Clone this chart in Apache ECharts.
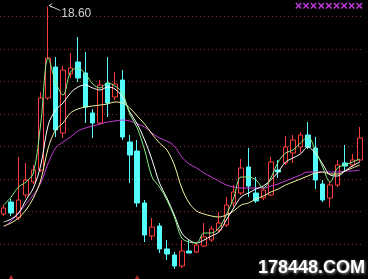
<!DOCTYPE html>
<html><head><meta charset="utf-8">
<script src="https://cdn.jsdelivr.net/npm/echarts@6/dist/echarts.min.js"></script>
<style>html,body{margin:0;padding:0;background:#000;}#c{width:368px;height:279px;}</style>
</head><body><div id="c"></div>
<script>
const categories = ['1','2','3','4','5','6','7','8','9','10','11','12','13','14','15','16','17','18','19','20','21','22','23','24','25','26','27','28','29','30','31','32','33','34','35','36','37','38','39','40','41','42','43','44','45','46','47','48','49'];
const openP  = [10.30,10.78,10.14,11.06,11.58,12.06,14.94,16.18,13.54,15.90,16.38,15.94,14.34,13.94,15.54,14.98,15.66,13.18,12.82,10.74,9.42,9.82,8.90,8.66,8.22,8.82,8.78,9.02,9.26,9.66,9.86,10.74,11.14,12.18,11.14,10.94,11.06,12.06,12.34,12.74,12.98,13.46,12.94,11.50,10.94,11.46,12.34,12.26,12.46];
const closeP = [10.54,10.34,10.86,11.66,12.06,14.94,16.54,13.66,16.06,16.14,15.74,14.58,13.94,15.46,14.74,15.50,13.38,12.66,10.74,9.46,9.78,8.90,8.70,8.22,8.82,8.74,9.06,9.38,9.70,9.94,10.66,11.18,12.14,11.42,10.82,11.26,12.38,11.98,12.98,13.26,13.46,12.98,11.66,10.86,11.46,12.26,12.22,12.46,13.34];
const lowP   = [10.22,10.22,10.06,10.94,11.50,11.98,14.86,13.38,13.34,15.74,15.58,13.94,13.34,13.86,14.18,14.86,13.26,11.54,10.58,9.18,9.26,8.74,8.46,8.10,8.14,8.74,8.74,8.98,9.18,9.54,9.78,10.58,11.06,10.98,10.74,10.86,11.02,11.74,12.26,12.34,12.74,12.90,11.30,10.78,10.58,11.38,11.98,12.18,12.38];
const highP  = [10.66,10.90,12.58,12.34,12.26,15.18,18.60,16.58,16.22,16.74,17.38,16.78,14.50,15.66,16.58,15.98,16.06,13.46,13.26,10.86,10.14,9.94,9.26,8.78,9.26,9.26,9.14,9.94,9.82,10.38,10.98,11.46,12.50,12.94,11.78,11.34,12.58,12.46,13.42,13.46,13.58,13.98,13.38,11.66,11.58,12.46,13.06,12.70,13.78];
const maGreen  = [10.66,10.98,11.38,11.58,11.94,13.94,16.54,15.58,15.06,15.98,16.14,15.90,15.50,15.34,15.54,15.42,15.14,14.30,13.74,12.86,11.78,11.38,10.86,10.18,9.34,9.18,9.14,9.54,9.54,9.74,10.26,10.94,11.78,11.78,11.66,11.34,11.74,12.38,12.74,12.86,13.14,13.38,12.86,12.18,11.58,12.14,12.26,12.38,12.50];
const maWhite  = [9.98,10.10,10.34,10.86,11.34,12.26,13.86,14.46,14.74,15.14,15.38,15.46,15.34,15.26,15.38,15.30,14.98,14.38,13.90,13.26,12.46,11.54,10.94,10.26,9.54,9.26,9.14,9.26,9.42,9.58,10.06,10.54,10.98,11.14,11.30,11.42,11.66,11.98,12.38,12.54,12.70,12.98,12.74,12.30,11.86,11.82,12.02,12.22,12.38];
const maYellow = [9.82,9.94,10.14,10.46,10.94,11.66,12.94,13.66,13.94,14.34,14.50,14.58,14.62,14.66,14.70,14.78,14.74,14.54,14.22,13.90,13.50,13.14,12.86,12.26,11.34,10.74,10.42,10.30,10.22,10.18,10.26,10.42,10.66,10.74,10.90,11.02,11.18,11.30,11.46,11.58,11.70,11.82,11.94,11.98,11.90,11.90,12.02,12.14,12.26];
const maPurple = [9.78,10.02,10.34,10.70,11.06,11.54,12.34,12.94,13.18,13.38,13.62,13.74,13.82,13.90,13.98,14.02,14.06,14.02,13.90,13.78,13.54,13.34,13.22,13.02,12.58,12.30,12.14,11.94,11.78,11.62,11.46,11.38,11.34,11.34,11.34,11.34,11.42,11.50,11.62,11.74,11.86,11.98,11.98,11.98,11.98,11.98,12.02,12.02,12.06];
const markIdx = [1, 18];
const markVal = [7.76, 7.76];
const peakIdx = 6;
const peakLabel = '18.60';

const candleData = categories.map((c, i) => [openP[i], closeP[i], lowP[i], highP[i]]);
const markData = markIdx.map((k, i) => [categories[k], markVal[i]]);

const chart = echarts.init(document.getElementById('c'), null, {renderer: 'canvas'});
function lineSeries(data, color) {
  return {type: 'line', data: data, symbol: 'none', smooth: 0.35, z: 5,
    lineStyle: {color: color, width: 1}, clip: false, animation: false};
}
chart.setOption({
  backgroundColor: '#000',
  animation: false,
  grid: {left: -4, right: 4.5, top: 16.5, bottom: 2.5, containLabel: false},
  xAxis: {type: 'category', data: categories, boundaryGap: true,
    axisLine: {show: false}, axisTick: {show: false}, axisLabel: {show: false}, splitLine: {show: false}},
  yAxis: {type: 'value', min: 7.8, max: 18.2, interval: 1.3, scale: true,
    axisLine: {show: false}, axisTick: {show: false}, axisLabel: {show: false},
    splitLine: {show: true, showMinLine: false, showMaxLine: true,
      lineStyle: {color: '#8a2c26', width: 1, type: [1, 3]}}},
  series: [
    {type: 'candlestick', data: candleData, barWidth: 5, clip: false, z: 3,
      itemStyle: {color: '#000', color0: '#54fcfc', borderColor: '#ff3c3c', borderColor0: '#54fcfc', borderWidth: 1}},
    lineSeries(maPurple, '#c83ad8'),
    lineSeries(maYellow, '#f4f4a0'),
    lineSeries(maWhite, '#ffffff'),
    lineSeries(maGreen, '#86f086'),
    {type: 'scatter', data: markData, symbol: 'triangle', symbolSize: [6, 5], clip: false,
      itemStyle: {color: '#e03030'}, z: 6}
  ]
});

const p = chart.convertToPixel({xAxisIndex: 0, yAxisIndex: 0}, [categories[peakIdx], highP[peakIdx]]);
const px = p[0], py = p[1];
chart.setOption({
  graphic: [
    {type: 'polyline', shape: {points: [[px + 1, py - 1], [px + 12, py + 4]]}, style: {stroke: '#c8c8c8', lineWidth: 1, fill: null}, z: 20},
    {type: 'polyline', shape: {points: [[px + 4, py - 3], [px + 1, py - 1], [px + 4, py + 1]]}, style: {stroke: '#c8c8c8', lineWidth: 1, fill: null}, z: 20},
    {type: 'text', x: px + 13, y: py + 7, style: {text: peakLabel, fill: '#cfcfcf', font: '12px "Liberation Sans", Arial, sans-serif', textVerticalAlign: 'middle'}, z: 20},
    {type: 'text', right: 5, top: 0, style: {text: '×××××××××', fill: '#c03ae0', font: 'bold 13px "Liberation Sans", Arial, sans-serif'}, z: 20},
    {type: 'text', right: 3, bottom: 2, style: {text: '178448.COM', fill: '#ffffff', font: 'bold 18px "Liberation Sans", Arial, sans-serif', textShadowColor: '#9a9a9a', textShadowBlur: 3, textShadowOffsetX: 1, textShadowOffsetY: 1}, z: 20}
  ]
});
</script></body></html>
